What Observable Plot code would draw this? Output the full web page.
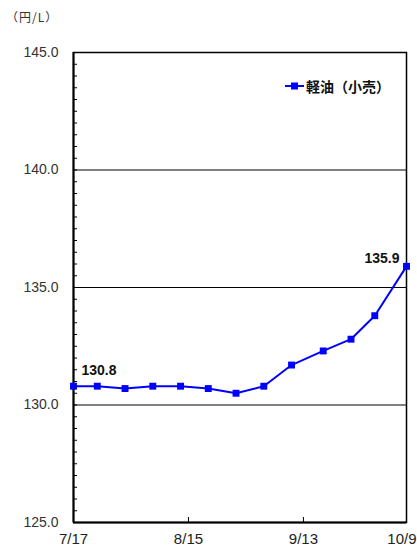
<!DOCTYPE html>
<html><head><meta charset="utf-8">
<script src="https://cdn.jsdelivr.net/npm/d3@7"></script>
<script src="https://cdn.jsdelivr.net/npm/@observablehq/plot@0.6"></script>
<style>
body{margin:0;background:#fff;}
#wrap{position:relative;width:417px;height:549px;font-family:"Liberation Sans",Arial,sans-serif;}
#unit{position:absolute;left:6px;top:8px;font-size:12px;letter-spacing:1px;color:#333;font-family:"Noto Sans CJK JP","Liberation Sans",sans-serif;}
#legend{position:absolute;left:285px;top:76px;display:flex;align-items:center;font-size:14px;font-weight:bold;font-family:"Noto Sans CJK JP",sans-serif;color:#111;}
</style></head>
<body><div id="wrap"><div id="unit">（円/L）</div><div id="legend"><svg width="21" height="12"><line x1="0" x2="19" y1="6" y2="6" stroke="#0000FF" stroke-width="2"/><rect x="6" y="2.5" width="7" height="7" fill="#0000FF"/></svg><span id="legtxt"></span></div></div>
<script>
const seriesName = "軽油（小売）";
const dates = ["2018-07-17","2018-07-23","2018-07-30","2018-08-06","2018-08-13","2018-08-20","2018-08-27","2018-09-03","2018-09-10","2018-09-18","2018-09-25","2018-10-01","2018-10-09"];
const values = [130.8,130.8,130.7,130.8,130.8,130.7,130.5,130.8,131.7,132.3,132.8,133.8,135.9];
const xTickDates = ["2018-07-17","2018-08-15","2018-09-13","2018-10-09"];
const yMajorTicks = [125,130,135,140,145];
const yDomain = [125,145];

document.getElementById("legtxt").textContent = seriesName;
const parse = d3.utcParse("%Y-%m-%d");
const data = dates.map((d,i)=>({date: parse(d), v: values[i]}));
const xt = xTickDates.map(parse);
const fmt = d3.utcFormat("%-m/%-d");
const minor = d3.range(125,145.001,0.5);

const chart = Plot.plot({
  width: 417, height: 549,
  marginLeft: 73, marginRight: 11, marginTop: 52, marginBottom: 27,
  x: {type:"utc", domain:[xt[0], xt[3]]},
  y: {domain: yDomain},
  style: {fontFamily:"Liberation Sans, Arial, sans-serif", background:"#fff", overflow:"visible"},
  marks: [
    Plot.ruleY([140,135], {stroke:"#000", strokeWidth:1}),
    Plot.ruleY([130], {stroke:"#808080", strokeWidth:2}),
    Plot.axisY({ticks: minor, tickSize: -4, tickFormat: ()=>"", label:null, stroke:"#000"}),
    Plot.axisY({ticks: yMajorTicks, tickSize: 0, tickPadding: 15, tickFormat: d=>d.toFixed(1), fontSize: 14, fill:"#333", label:null}),
    Plot.axisX({ticks: xt.slice(1,3), tickSize: -5, tickFormat: ()=>"", label:null, stroke:"#000"}),
    Plot.axisX({ticks: xt.slice(0,3), tickSize: 0, tickPadding: 11, tickFormat: fmt, fontSize: 15, fill:"#222", label:null}),
    Plot.axisX({ticks: xt.slice(3), tickSize: 0, tickPadding: 11, tickFormat: fmt, fontSize: 15, fill:"#222", textAnchor:"end", dx: 10, label:null}),
    Plot.frame({stroke:"#000", strokeWidth:1.5}),
    Plot.ruleX([xt[0]], {stroke:"#000", strokeWidth:2}),
    Plot.ruleY([yDomain[0]], {stroke:"#000", strokeWidth:2}),
    Plot.line(data, {x:"date", y:"v", stroke:"#0000FF", strokeWidth:2}),
    Plot.dot(data, {x:"date", y:"v", symbol:"square", r:3.9, fill:"#0000FF", stroke:"none"}),
    Plot.text([data[0]], {x:"date", y:"v", text:d=>d.v.toFixed(1), dx:8, dy:-16, textAnchor:"start", fontWeight:"bold", fontSize:14, fill:"#111"}),
    Plot.text([data[data.length-1]], {x:"date", y:"v", text:d=>d.v.toFixed(1), dx:-7, dy:-8, textAnchor:"end", fontWeight:"bold", fontSize:14, fill:"#111"})
  ]
});
document.getElementById("wrap").prepend(chart);
chart.style.position="absolute"; chart.style.left="0"; chart.style.top="0";
</script>
</body></html>
